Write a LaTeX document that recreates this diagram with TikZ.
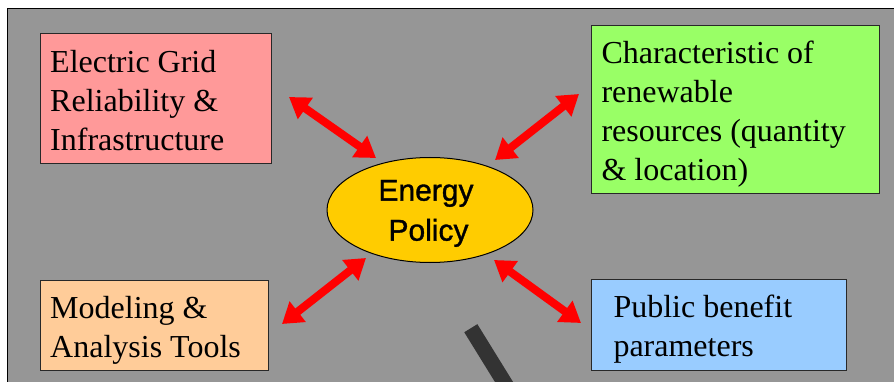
\documentclass[tikz,border=0pt]{standalone}
\usepackage{fontspec}
\setmainfont{Liberation Serif}
\newfontfamily\policyfont[FakeBold=1.2]{Liberation Sans}
\usetikzlibrary{arrows.meta,shapes.geometric}
\definecolor{bggray}{RGB}{150,150,150}
\definecolor{pinkbox}{RGB}{255,153,153}
\definecolor{greenbox}{RGB}{153,255,102}
\definecolor{orangebox}{RGB}{255,204,153}
\definecolor{bluebox}{RGB}{153,204,255}
\definecolor{goldfill}{RGB}{255,204,0}
\definecolor{arrowred}{RGB}{255,0,0}
\definecolor{barcol}{RGB}{51,51,51}
\definecolor{boxline}{RGB}{40,40,40}
\begin{document}
\begin{tikzpicture}[x=1pt,y=-1pt,
  box/.style={draw=boxline, line width=1pt, rectangle, inner sep=0pt, anchor=north west},
  boxtext/.style={anchor=north west, inner sep=0pt, align=left, font=\fontsize{32}{39}\selectfont, text=black},
  link/.style={draw=arrowred, line width=8pt, {Triangle[length=20pt,width=25pt]}-{Triangle[length=20pt,width=25pt]}}
]
\useasboundingbox (0,0) rectangle (894,382);
\fill[white] (0,0) rectangle (894,382);
\fill[bggray] (7.5,8.5) rectangle (894,382);
\draw[black, line width=1.3pt] (7.5,382) -- (7.5,8.5) -- (894,8.5);

% boxes
\node[box, fill=pinkbox, minimum width=231pt, minimum height=130pt] (grid) at (40,33) {};
\node[box, fill=greenbox, minimum width=287.5pt, minimum height=168pt] (renew) at (591,25) {};
\node[box, fill=orangebox, minimum width=228pt, minimum height=90pt] (model) at (40,279.5) {};
\node[box, fill=bluebox, minimum width=255pt, minimum height=91pt] (public) at (591,278.5) {};

% texts
\node[boxtext] (gridtext) at (50,45.4) {\strut Electric Grid\\Reliability \&\\Infrastructure};
\node[boxtext] (renewtext) at (601.3,36) {\strut Characteristic of\\renewable\\resources (quantity\\\& location)};
\node[boxtext] (modeltext) at (50,291) {\strut Modeling \&\\Analysis Tools};
\node[boxtext] (publictext) at (613.3,290.4) {\strut Public benefit\\parameters};

% central ellipse
\node[ellipse, draw=black, line width=1pt, fill=goldfill, inner sep=0pt,
      minimum width=206pt, minimum height=105pt, align=center,
      font=\policyfont\fontsize{30}{40}\selectfont] (policy) at (430,210)
      {\rule{0pt}{27.5pt}Energy\kern8pt\\Policy\kern3pt};

% arrows
\coordinate (a1s) at (289,97);  \coordinate (a1e) at (376,158);
\coordinate (a2s) at (495,160); \coordinate (a2e) at (579,94);
\coordinate (a3s) at (282,324); \coordinate (a3e) at (366,258);
\coordinate (a4s) at (494,260); \coordinate (a4e) at (581,323);
\draw[link] (a1s) -- (a1e);
\draw[link] (a2s) -- (a2e);
\draw[link] (a3s) -- (a3e);
\draw[link] (a4s) -- (a4e);

% dark bar
\coordinate (bartop) at (470.8,328.2);
\coordinate (barend) at (510.7,392.8);
\begin{scope}
\clip (8,9) rectangle (894,382);
\draw[barcol, line width=15.4pt] (bartop) -- (barend);
\end{scope}
\end{tikzpicture}
\end{document}
